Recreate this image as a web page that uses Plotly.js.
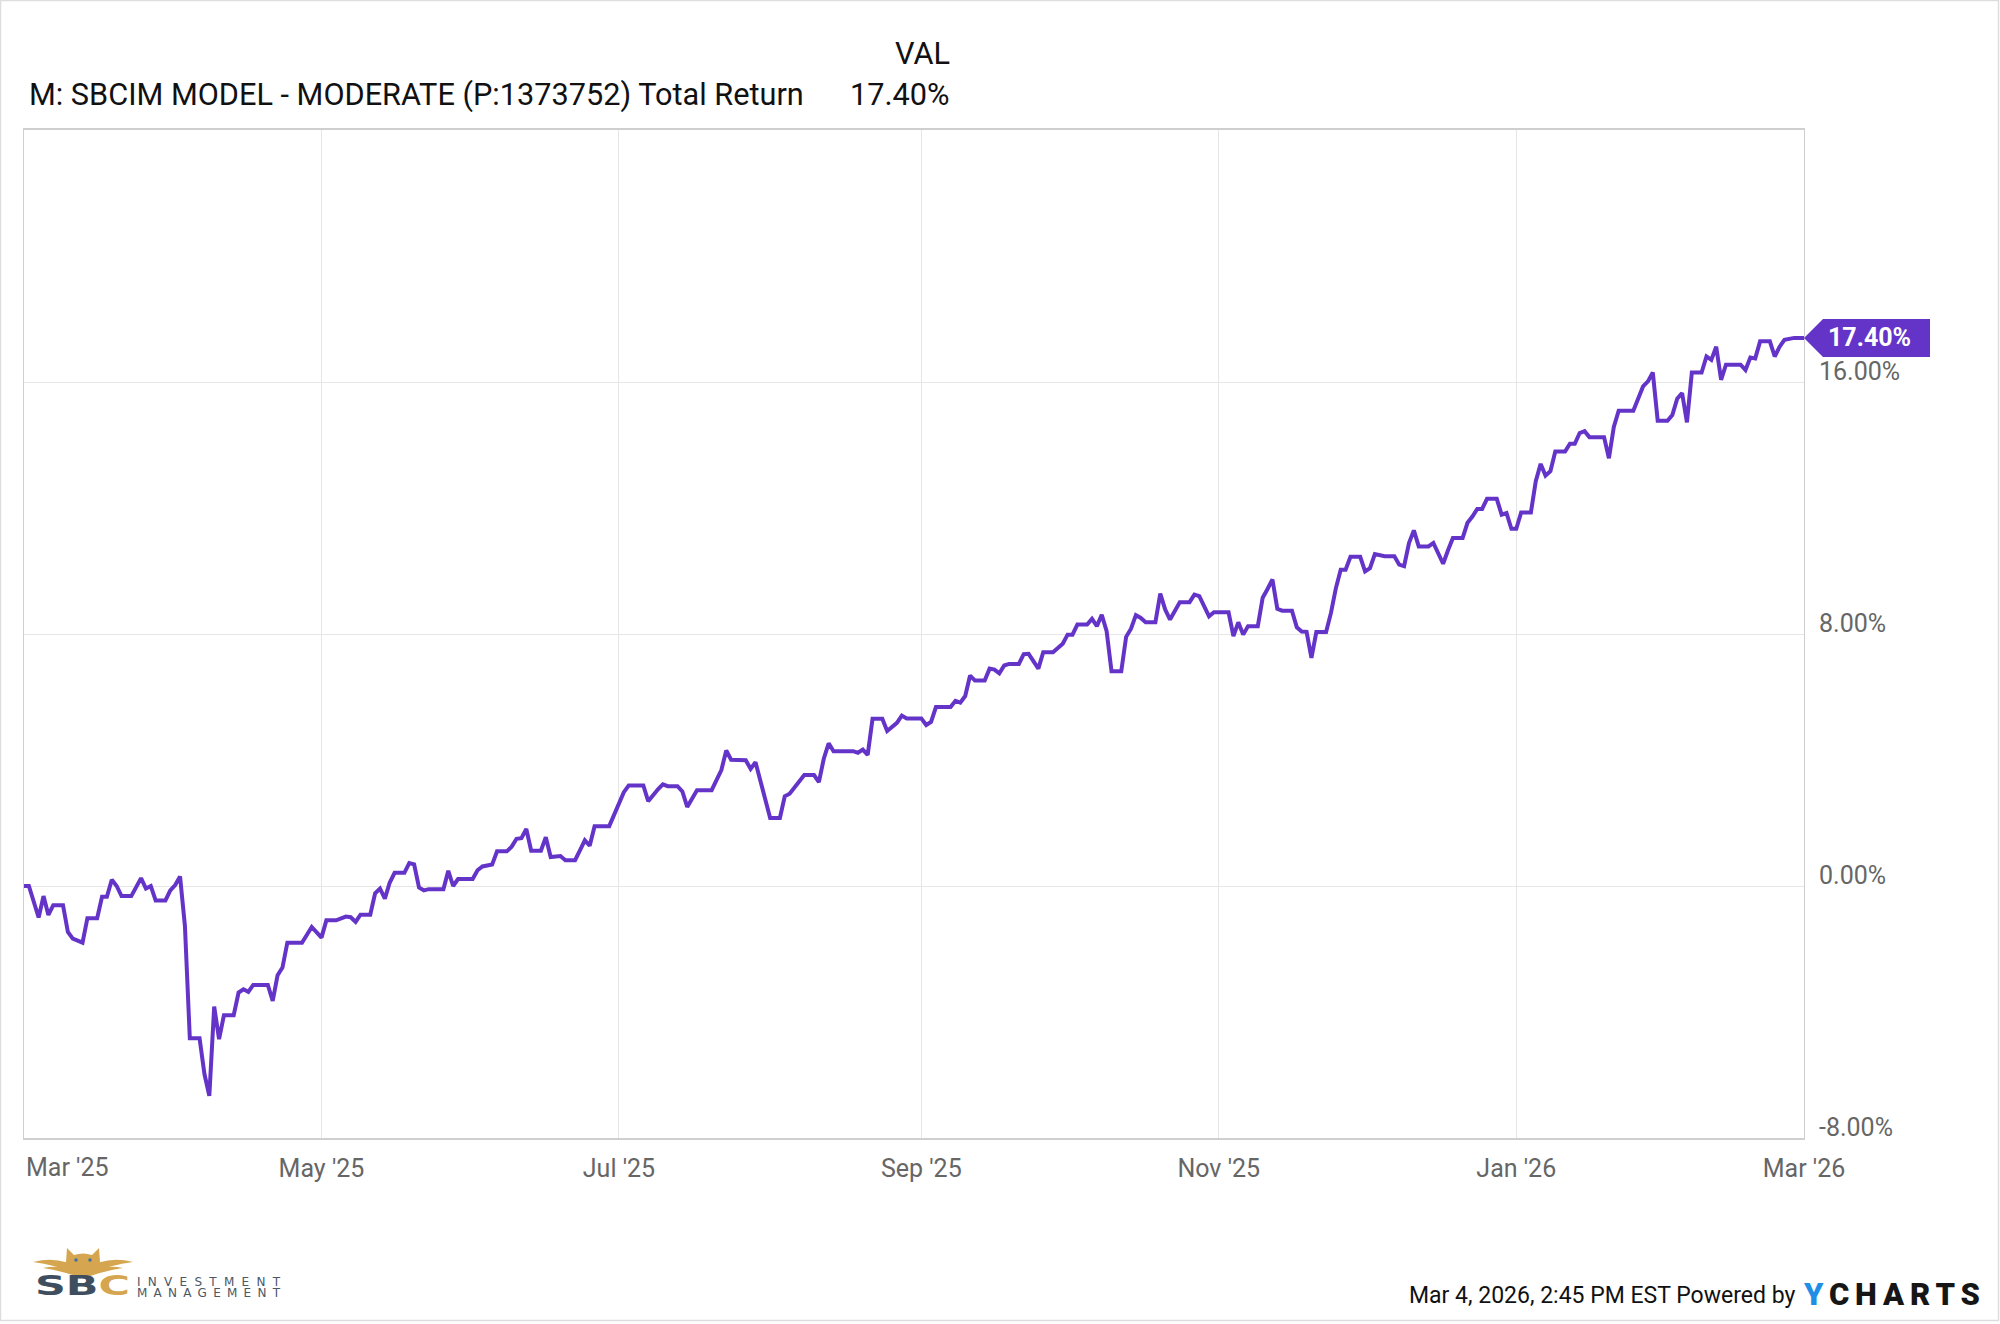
<!DOCTYPE html>
<html>
<head>
<meta charset="utf-8">
<script src="https://cdn.plot.ly/plotly-3.0.1.min.js"></script>
<style>
  html, body { margin:0; padding:0; background:#ffffff; }
  #wrap { position:relative; width:2000px; height:1324px; overflow:hidden; }
  #chart { position:absolute; left:0; top:0; width:2000px; height:1324px; }
  #overlay { position:absolute; left:0; top:0; pointer-events:none; }
</style>
</head>
<body>
<div id="wrap">
  <div id="chart"></div>
  <svg id="overlay" width="2000" height="1324" xmlns="http://www.w3.org/2000/svg">
    <rect x="0.5" y="0.5" width="1998" height="1320" fill="none" stroke="#dddddd" stroke-width="1.5"/>
    <!-- SBC logo: owl and wings -->
    <g fill="#d5a54f">
      <path d="M33,1262 Q60,1255 82,1270 L81,1275 Q60,1266 33,1262 Z"/>
      <path d="M43,1268 Q63,1264 80,1274 L79,1277 Q62,1271 43,1268 Z"/>
      <path d="M133,1262 Q106,1255 84,1270 L85,1275 Q106,1266 133,1262 Z"/>
      <path d="M123,1268 Q103,1264 86,1274 L87,1277 Q104,1271 123,1268 Z"/>
      <path d="M67,1248 L74,1255 Q83,1252 92,1255 L99,1248 L100,1262 Q97,1275 83,1277 Q69,1275 66,1262 Z"/>
    </g>
    <circle cx="76" cy="1260" r="1.7" fill="#3b6fa8"/>
    <circle cx="90" cy="1260" r="1.7" fill="#3b6fa8"/>
    <text x="35" y="1295" font-family="DejaVu Sans" font-weight="bold" font-size="27" textLength="95" lengthAdjust="spacingAndGlyphs"><tspan fill="#3e4e5e">SB</tspan><tspan fill="#d5a54f">C</tspan></text>
    <text x="137" y="1286" font-family="DejaVu Sans" font-size="12" fill="#4a5866" textLength="143" lengthAdjust="spacing">INVESTMENT</text>
    <text x="137" y="1297" font-family="DejaVu Sans" font-size="12" fill="#4a5866" textLength="143" lengthAdjust="spacing">MANAGEMENT</text>
    <!-- YCHARTS wordmark -->
    <text x="1804" y="1305" font-family="Roboto" font-weight="900" font-size="31" textLength="176" lengthAdjust="spacing"><tspan fill="#1f8fe6">Y</tspan><tspan fill="#161616">CHARTS</tspan></text>
  </svg>
</div>
<script>
// ---- Data ----
const seriesName = "M: SBCIM MODEL - MODERATE (P:1373752) Total Return";
const columnHeader = "VAL";
const footerText = "Mar 4, 2026, 2:45 PM EST Powered by";

const dates = [
  "2025-03-01","2025-03-02","2025-03-04","2025-03-05","2025-03-06","2025-03-07","2025-03-09","2025-03-10","2025-03-11","2025-03-13","2025-03-14","2025-03-16","2025-03-17","2025-03-18","2025-03-19","2025-03-20","2025-03-21","2025-03-23","2025-03-25","2025-03-26","2025-03-27","2025-03-28","2025-03-30","2025-03-31",
  "2025-04-01","2025-04-02","2025-04-03","2025-04-04","2025-04-06","2025-04-07","2025-04-08","2025-04-09","2025-04-10","2025-04-11","2025-04-13","2025-04-14","2025-04-15","2025-04-16","2025-04-17","2025-04-20","2025-04-21","2025-04-22","2025-04-23","2025-04-24","2025-04-27","2025-04-29",
  "2025-05-01","2025-05-02","2025-05-04","2025-05-06","2025-05-07","2025-05-08","2025-05-09","2025-05-11","2025-05-12","2025-05-13","2025-05-14","2025-05-15","2025-05-16","2025-05-18","2025-05-19","2025-05-20","2025-05-21","2025-05-22","2025-05-23","2025-05-26","2025-05-27","2025-05-28","2025-05-29",
  "2025-06-01","2025-06-02","2025-06-03","2025-06-05","2025-06-06","2025-06-08","2025-06-09","2025-06-10","2025-06-11","2025-06-12","2025-06-13","2025-06-15","2025-06-16","2025-06-17","2025-06-18","2025-06-19","2025-06-20","2025-06-22","2025-06-23","2025-06-24","2025-06-25","2025-06-26","2025-06-29","2025-06-30",
  "2025-07-01","2025-07-02","2025-07-03","2025-07-06","2025-07-07","2025-07-08","2025-07-09","2025-07-10","2025-07-11","2025-07-13","2025-07-14","2025-07-15","2025-07-16","2025-07-17","2025-07-20","2025-07-21","2025-07-22","2025-07-23","2025-07-24","2025-07-27","2025-07-28","2025-07-29","2025-07-30","2025-07-31",
  "2025-08-01","2025-08-03","2025-08-04","2025-08-05","2025-08-06","2025-08-07","2025-08-08","2025-08-10","2025-08-11","2025-08-12","2025-08-13","2025-08-14","2025-08-18","2025-08-19","2025-08-20","2025-08-21","2025-08-22","2025-08-24","2025-08-25","2025-08-27","2025-08-28","2025-08-29",
  "2025-09-01","2025-09-02","2025-09-03","2025-09-04","2025-09-07","2025-09-08","2025-09-09","2025-09-10","2025-09-11","2025-09-12","2025-09-14","2025-09-15","2025-09-16","2025-09-17","2025-09-18","2025-09-19","2025-09-21","2025-09-22","2025-09-23","2025-09-25","2025-09-26","2025-09-28","2025-09-29","2025-09-30",
  "2025-10-01","2025-10-02","2025-10-03","2025-10-05","2025-10-06","2025-10-07","2025-10-08","2025-10-09","2025-10-10","2025-10-12","2025-10-13","2025-10-14","2025-10-15","2025-10-16","2025-10-17","2025-10-19","2025-10-20","2025-10-21","2025-10-22","2025-10-23","2025-10-24","2025-10-26","2025-10-27","2025-10-28","2025-10-29","2025-10-30","2025-10-31",
  "2025-11-03","2025-11-04","2025-11-05","2025-11-06","2025-11-07","2025-11-09","2025-11-10","2025-11-11","2025-11-12","2025-11-13","2025-11-14","2025-11-16","2025-11-17","2025-11-18","2025-11-19","2025-11-20","2025-11-21","2025-11-23","2025-11-24","2025-11-25","2025-11-26","2025-11-27","2025-11-28","2025-11-30",
  "2025-12-01","2025-12-02","2025-12-03","2025-12-05","2025-12-07","2025-12-08","2025-12-09","2025-12-10","2025-12-11","2025-12-12","2025-12-14","2025-12-15","2025-12-16","2025-12-17","2025-12-18","2025-12-19","2025-12-21","2025-12-22","2025-12-23","2025-12-24","2025-12-25","2025-12-26","2025-12-28","2025-12-29","2025-12-30","2025-12-31",
  "2026-01-01","2026-01-02","2026-01-04","2026-01-05","2026-01-06","2026-01-07","2026-01-08","2026-01-09","2026-01-11","2026-01-12","2026-01-13","2026-01-14","2026-01-15","2026-01-16","2026-01-19","2026-01-20","2026-01-21","2026-01-22","2026-01-25","2026-01-26","2026-01-27","2026-01-28","2026-01-29","2026-01-30",
  "2026-02-01","2026-02-02","2026-02-03","2026-02-04","2026-02-05","2026-02-06","2026-02-08","2026-02-09","2026-02-10","2026-02-11","2026-02-12","2026-02-13","2026-02-16","2026-02-17","2026-02-18","2026-02-19","2026-02-20","2026-02-22","2026-02-23","2026-02-24","2026-02-25","2026-02-27",
  "2026-03-01"
];

const totalReturn = [
  0.00,0.00,-1.00,-0.32,-0.92,-0.61,-0.61,-1.46,-1.67,-1.80,-1.02,-1.02,-0.34,-0.34,0.20,0.00,-0.32,-0.32,0.25,-0.08,0.00,-0.46,-0.46,-0.14,
  0.03,0.30,-1.27,-4.83,-4.83,-5.97,-6.66,-3.83,-4.86,-4.10,-4.10,-3.38,-3.28,-3.36,-3.14,-3.14,-3.65,-2.83,-2.59,-1.80,-1.80,-1.30,
  -1.64,-1.09,-1.09,-0.97,-0.99,-1.14,-0.91,-0.91,-0.23,-0.08,-0.40,0.11,0.42,0.42,0.73,0.69,-0.05,-0.14,-0.10,-0.10,0.48,0.00,0.22,
  0.22,0.50,0.62,0.68,1.10,1.10,1.25,1.50,1.52,1.81,1.12,1.12,1.55,0.92,0.95,0.95,0.82,0.82,1.13,1.45,1.28,1.90,1.90,2.27,
  2.68,2.98,3.19,3.19,2.69,2.90,3.07,3.23,3.17,3.17,3.00,2.51,2.75,3.04,3.04,3.36,3.68,4.30,4.01,3.99,3.72,3.93,3.31,2.72,
  2.16,2.16,2.85,2.93,3.13,3.35,3.52,3.52,3.30,4.04,4.53,4.28,4.28,4.23,4.33,4.16,5.31,5.31,4.92,5.18,5.41,5.32,
  5.32,5.11,5.21,5.68,5.68,5.88,5.82,6.03,6.68,6.52,6.52,6.90,6.87,6.75,7.00,7.05,7.05,7.36,7.37,6.90,7.42,7.42,7.55,7.69,
  7.98,7.98,8.30,8.30,8.48,8.25,8.61,8.09,6.82,6.82,7.91,8.17,8.60,8.51,8.37,8.37,9.28,8.78,8.46,8.72,9.01,9.01,9.25,9.20,8.91,8.56,8.69,
  8.69,7.93,8.37,7.98,8.25,8.25,9.15,9.43,9.73,8.80,8.74,8.74,8.21,8.08,8.07,7.24,8.06,8.06,8.67,9.45,10.04,10.04,10.45,10.45,
  9.99,10.09,10.54,10.47,10.47,10.20,10.15,10.89,11.29,10.78,10.78,10.89,10.59,10.23,10.66,11.05,11.05,11.53,11.73,11.97,11.97,12.29,12.29,11.79,11.84,11.34,
  11.34,11.86,11.86,12.85,13.40,13.03,13.17,13.79,13.79,14.04,14.04,14.38,14.44,14.25,14.25,13.58,14.57,15.09,15.09,15.46,15.86,16.02,16.30,14.77,
  14.77,14.95,15.47,15.65,14.72,16.30,16.30,16.81,16.70,17.12,16.07,16.55,16.55,16.38,16.78,16.75,17.29,17.29,16.81,17.12,17.34,17.40,
  17.40
];

const xTickDates  = ["2025-03-01","2025-05-01","2025-07-01","2025-09-01","2025-11-01","2026-01-01","2026-03-01"];
const xTickLabels = ["Mar '25","May '25","Jul '25","Sep '25","Nov '25","Jan '26","Mar '26"];
const yTickValues = [-8, 0, 8, 16];
const yRange = [-8, 24];

// ---- Derived ----
const lastValue = totalReturn[totalReturn.length - 1];
const fmtPct = v => v.toFixed(2) + "%";
const purple = "#6434c9";
const tickFont = {family: "Roboto, 'Open Sans', sans-serif", size: 25, color: "#666666"};
const headFont = {family: "Roboto, sans-serif", size: 30.7, color: "#111111"};

const trace = {
  type: "scatter",
  mode: "lines",
  x: dates,
  y: totalReturn,
  line: {color: purple, width: 4, shape: "linear"},
  hoverinfo: "skip",
  showlegend: false
};

const layout = {
  width: 2000,
  height: 1324,
  margin: {l: 24, r: 196, t: 130, b: 186, pad: 0},
  paper_bgcolor: "rgba(0,0,0,0)",
  plot_bgcolor: "#ffffff",
  showlegend: false,
  font: tickFont,
  xaxis: {
    type: "date",
    range: [dates[0], dates[dates.length - 1]],
    tickmode: "array",
    tickvals: xTickDates.slice(1),
    ticktext: xTickLabels.slice(1),
    tickfont: tickFont,
    ticks: "",
    ticklabelstandoff: 7,
    showgrid: true,
    gridcolor: "#e6e6e6",
    gridwidth: 1,
    zeroline: false,
    showline: true,
    linecolor: "#cfcfcf",
    linewidth: 2,
    mirror: true,
    fixedrange: true
  },
  yaxis: {
    side: "right",
    range: yRange,
    tickmode: "array",
    tickvals: yTickValues,
    ticktext: yTickValues.map(fmtPct),
    tickfont: tickFont,
    ticks: "",
    ticklabelposition: "outside top",
    ticklabelstandoff: 9,
    ticklabelshift: 7,
    showgrid: true,
    gridcolor: "#e6e6e6",
    gridwidth: 1,
    zeroline: false,
    showline: true,
    linecolor: "#cfcfcf",
    linewidth: 1,
    mirror: true,
    fixedrange: true
  },
  shapes: [
    {
      type: "path",
      xref: "paper", yref: "y",
      xsizemode: "pixel", ysizemode: "pixel",
      xanchor: 1, yanchor: lastValue,
      path: "M0,0 L19,19 L126,19 L126,-19 L19,-19 Z",
      fillcolor: purple,
      line: {width: 0},
      layer: "above"
    }
  ],
  annotations: [
    {
      xref: "paper", yref: "y", x: 1, y: lastValue,
      xanchor: "left", yanchor: "middle", xshift: 22,
      text: "<b>" + fmtPct(lastValue) + "</b>",
      showarrow: false,
      font: {family: "Roboto, sans-serif", size: 25, color: "#ffffff"}
    },
    {
      xref: "paper", yref: "paper", x: 0, y: -0.0288,
      xanchor: "left", yanchor: "middle",
      text: xTickLabels[0], showarrow: false, font: tickFont
    },
    {
      xref: "paper", yref: "paper", x: 0.52135, y: 1.0762,
      xanchor: "right", yanchor: "middle",
      text: columnHeader, showarrow: false, font: headFont
    },
    {
      xref: "paper", yref: "paper", x: 0.0017, y: 1.0352,
      xanchor: "left", yanchor: "middle",
      text: seriesName, showarrow: false, font: headFont
    },
    {
      xref: "paper", yref: "paper", x: 0.52135, y: 1.0352,
      xanchor: "right", yanchor: "middle",
      text: fmtPct(lastValue), showarrow: false, font: headFont
    },
    {
      xref: "paper", yref: "paper", x: 0.99607, y: -0.1567,
      xanchor: "right", yanchor: "middle",
      text: footerText, showarrow: false,
      font: {family: "Roboto, sans-serif", size: 23, color: "#111111"}
    }
  ]
};

Plotly.newPlot("chart", [trace], layout, {displayModeBar: false, staticPlot: true});
</script>
</body>
</html>
